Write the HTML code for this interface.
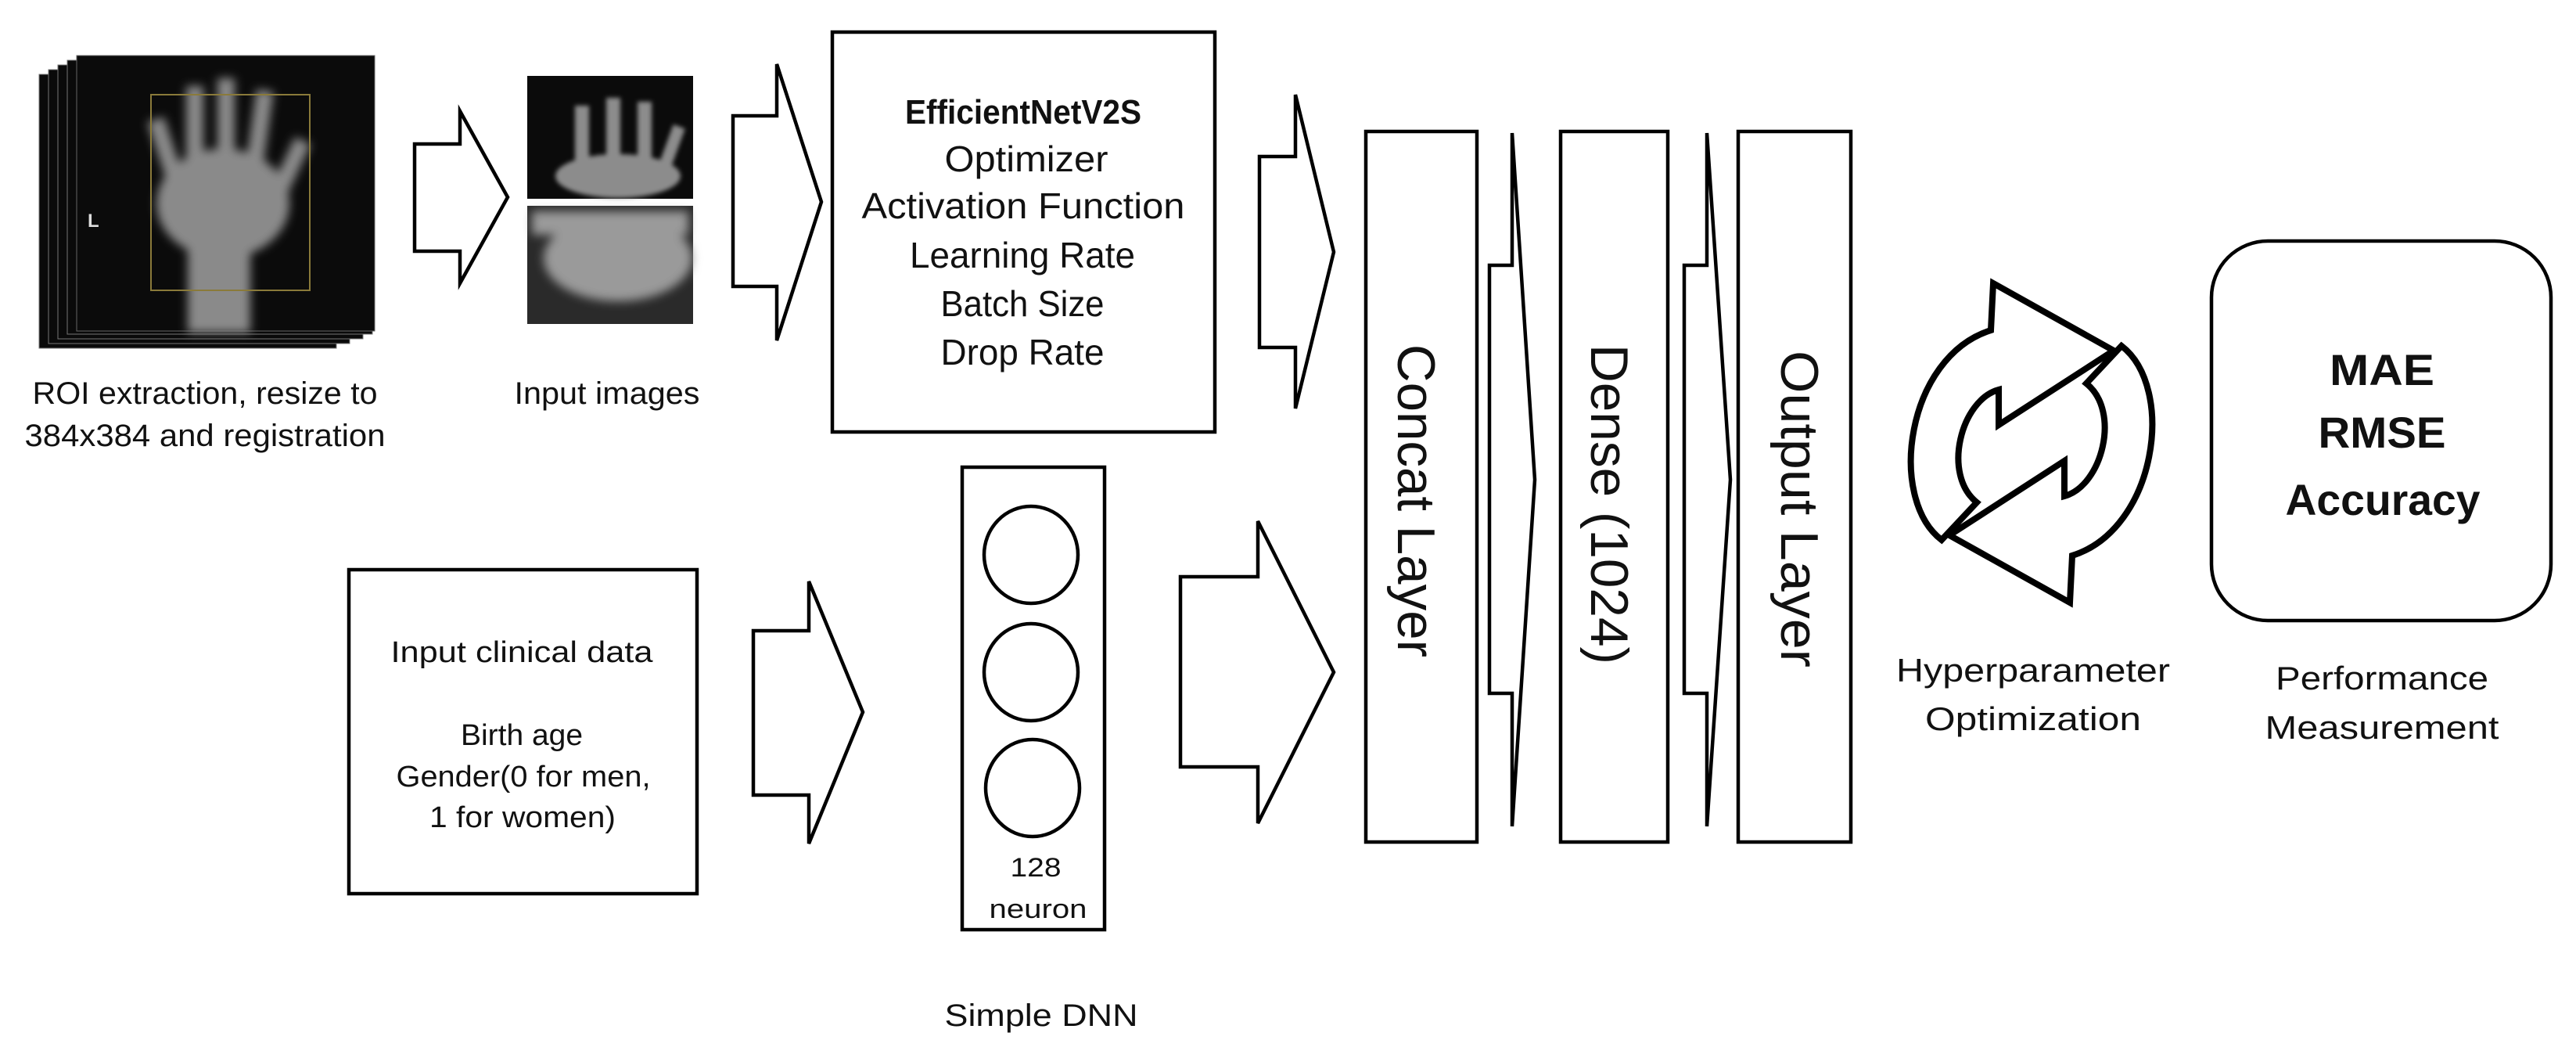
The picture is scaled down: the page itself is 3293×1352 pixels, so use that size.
<!DOCTYPE html>
<html><head><meta charset="utf-8"><style>
html,body{margin:0;padding:0;background:#fff;}
svg{display:block;}
text{font-family:"Liberation Sans",sans-serif;fill:#111;}
</style></head><body>
<svg width="3293" height="1352" viewBox="0 0 3293 1352" xmlns="http://www.w3.org/2000/svg">
<defs>
<filter id="bl" x="-20%" y="-20%" width="140%" height="140%"><feGaussianBlur stdDeviation="6"/></filter>
<filter id="bl2" x="-20%" y="-20%" width="140%" height="140%"><feGaussianBlur stdDeviation="3"/></filter>
</defs>

<!-- X-ray stack -->
<g>
<rect x="50" y="95" width="380" height="350" fill="#0a0a0a" stroke="#777" stroke-width="1"/>
<rect x="62" y="89" width="385" height="350" fill="#0a0a0a" stroke="#777" stroke-width="1"/>
<rect x="74" y="83" width="390" height="350" fill="#0a0a0a" stroke="#777" stroke-width="1"/>
<rect x="86" y="77" width="390" height="350" fill="#0a0a0a" stroke="#777" stroke-width="1"/>
<rect x="98" y="71" width="381" height="352" fill="#0b0b0b" stroke="#666" stroke-width="1"/>
<g filter="url(#bl)" fill="#8a8a8a">
<ellipse cx="285" cy="260" rx="85" ry="70"/>
<rect x="240" y="300" width="80" height="125"/>
<rect x="205" y="150" width="22" height="110" transform="rotate(-18 216 205)"/>
<rect x="238" y="110" width="22" height="140"/>
<rect x="278" y="100" width="22" height="150"/>
<rect x="318" y="115" width="22" height="140" transform="rotate(8 329 185)"/>
<rect x="355" y="175" width="22" height="100" transform="rotate(25 366 225)"/>
</g>
<rect x="193" y="121" width="203" height="250" fill="none" stroke="#8a7a3a" stroke-width="2"/>
<text x="112" y="290" font-size="24" style="fill:#ddd" font-weight="bold">L</text>
</g>

<!-- Input images -->
<g>
<rect x="674" y="97" width="212" height="157" fill="#0b0b0b"/>
<g filter="url(#bl2)" fill="#8c8c8c">
<ellipse cx="790" cy="225" rx="80" ry="28"/>
<rect x="735" y="135" width="18" height="80"/>
<rect x="775" y="125" width="18" height="90"/>
<rect x="815" y="130" width="18" height="85"/>
<rect x="850" y="160" width="16" height="60" transform="rotate(20 858 190)"/>
</g>
<rect x="674" y="263" width="212" height="151" fill="#2a2a2a"/>
<g filter="url(#bl)" fill="#9a9a9a">
<ellipse cx="790" cy="330" rx="95" ry="55"/>
<rect x="680" y="270" width="200" height="30"/>
</g>
</g>

<text x="262" y="516" font-size="40" text-anchor="middle" textLength="441" lengthAdjust="spacingAndGlyphs">ROI extraction, resize to</text>
<text x="262" y="570" font-size="40" text-anchor="middle" textLength="461" lengthAdjust="spacingAndGlyphs">384x384 and registration</text>
<text x="776" y="516" font-size="40" text-anchor="middle" textLength="237" lengthAdjust="spacingAndGlyphs">Input images</text>

<g fill="#fff" stroke="#000" stroke-width="4.5" stroke-linejoin="miter">
<!-- block arrows -->
<polygon points="530,184 588,184 588,142 649,252 588,362 588,321 530,321"/>
<polygon points="937,148 993,148 993,82 1050,258 993,435 993,366 937,366"/>
<polygon points="963,806 1034,806 1034,743 1103,910 1034,1078 1034,1016 963,1016"/>
<polygon points="1610,200 1656,200 1656,121 1705,322 1656,522 1656,444 1610,444"/>
<polygon points="1509,737 1608,737 1608,666 1705,859 1608,1052 1608,980 1509,980"/>
<polygon points="1904,339 1933,339 1933,170 1962,613 1933,1056 1933,886 1904,886"/>
<polygon points="2153,339 2182,339 2182,170 2212,613 2182,1056 2182,886 2153,886"/>
<!-- boxes -->
<rect x="1064" y="41" width="489" height="511"/>
<rect x="446" y="728" width="445" height="414"/>
<rect x="1230" y="597" width="182" height="591"/>
<ellipse cx="1318" cy="709" rx="60" ry="62"/>
<ellipse cx="1318" cy="859" rx="60" ry="62"/>
<ellipse cx="1320" cy="1007" rx="60" ry="62"/>
<rect x="1746" y="168" width="142" height="908"/>
<rect x="1995" y="168" width="137" height="908"/>
<rect x="2222" y="168" width="144" height="908"/>
<rect x="2827" y="308" width="434" height="485" rx="72" ry="72"/>
</g>

<!-- EfficientNet text -->
<text x="1308" y="158" font-size="44" font-weight="bold" text-anchor="middle" textLength="302" lengthAdjust="spacingAndGlyphs">EfficientNetV2S</text>
<text x="1312" y="219" font-size="46" text-anchor="middle" textLength="209" lengthAdjust="spacingAndGlyphs">Optimizer</text>
<text x="1308" y="279" font-size="46" text-anchor="middle" textLength="413" lengthAdjust="spacingAndGlyphs">Activation Function</text>
<text x="1307" y="342" font-size="46" text-anchor="middle" textLength="288" lengthAdjust="spacingAndGlyphs">Learning Rate</text>
<text x="1307" y="404" font-size="46" text-anchor="middle" textLength="209" lengthAdjust="spacingAndGlyphs">Batch Size</text>
<text x="1307" y="466" font-size="46" text-anchor="middle" textLength="209" lengthAdjust="spacingAndGlyphs">Drop Rate</text>

<!-- clinical -->
<text x="667" y="846" font-size="38" text-anchor="middle" textLength="335" lengthAdjust="spacingAndGlyphs">Input  clinical data</text>
<text x="667" y="952" font-size="38" text-anchor="middle" textLength="156" lengthAdjust="spacingAndGlyphs">Birth age</text>
<text x="669" y="1005" font-size="38" text-anchor="middle" textLength="325" lengthAdjust="spacingAndGlyphs">Gender(0 for men,</text>
<text x="668" y="1057" font-size="38" text-anchor="middle" textLength="238" lengthAdjust="spacingAndGlyphs">1 for women)</text>

<text x="1324" y="1120" font-size="34" text-anchor="middle" textLength="65" lengthAdjust="spacingAndGlyphs">128</text>
<text x="1327" y="1173" font-size="34" text-anchor="middle" textLength="125" lengthAdjust="spacingAndGlyphs">neuron</text>
<text x="1331" y="1311" font-size="40" text-anchor="middle" textLength="247" lengthAdjust="spacingAndGlyphs">Simple DNN</text>

<!-- vertical labels -->
<text transform="translate(1787,440) rotate(90)" font-size="68" textLength="400" lengthAdjust="spacingAndGlyphs">Concat Layer</text>
<text transform="translate(2034,440) rotate(90)" font-size="68" textLength="409" lengthAdjust="spacingAndGlyphs">Dense (1024)</text>
<text transform="translate(2277,448) rotate(90)" font-size="68" textLength="405" lengthAdjust="spacingAndGlyphs">Output Layer</text>

<!-- cycle icon -->
<g transform="translate(2597,566)" fill="#fff" stroke="#000" stroke-width="8" stroke-linejoin="miter">
<path d="M -52,-144 L -49,-204 L 105,-118 L -42,-23 L -42,-68 C -90,-55 -115,40 -70,76 L -115,124 C -185,70 -160,-110 -52,-144 Z"/>
<path d="M 52,144 L 49,204 L -105,118 L 42,23 L 42,68 C 90,55 115,-40 70,-76 L 115,-124 C 185,-70 160,110 52,144 Z"/>
</g>
<text x="2599" y="871" font-size="42" text-anchor="middle" textLength="350" lengthAdjust="spacingAndGlyphs">Hyperparameter</text>
<text x="2599" y="933" font-size="42" text-anchor="middle" textLength="276" lengthAdjust="spacingAndGlyphs">Optimization</text>

<!-- MAE -->
<text x="3045" y="492" font-size="56" font-weight="bold" text-anchor="middle" textLength="134" lengthAdjust="spacingAndGlyphs">MAE</text>
<text x="3045" y="572" font-size="56" font-weight="bold" text-anchor="middle" textLength="163" lengthAdjust="spacingAndGlyphs">RMSE</text>
<text x="3046" y="658" font-size="56" font-weight="bold" text-anchor="middle" textLength="249" lengthAdjust="spacingAndGlyphs">Accuracy</text>
<text x="3045" y="881" font-size="42" text-anchor="middle" textLength="272" lengthAdjust="spacingAndGlyphs">Performance</text>
<text x="3045" y="944" font-size="42" text-anchor="middle" textLength="299" lengthAdjust="spacingAndGlyphs">Measurement</text>
</svg>
</body></html>
